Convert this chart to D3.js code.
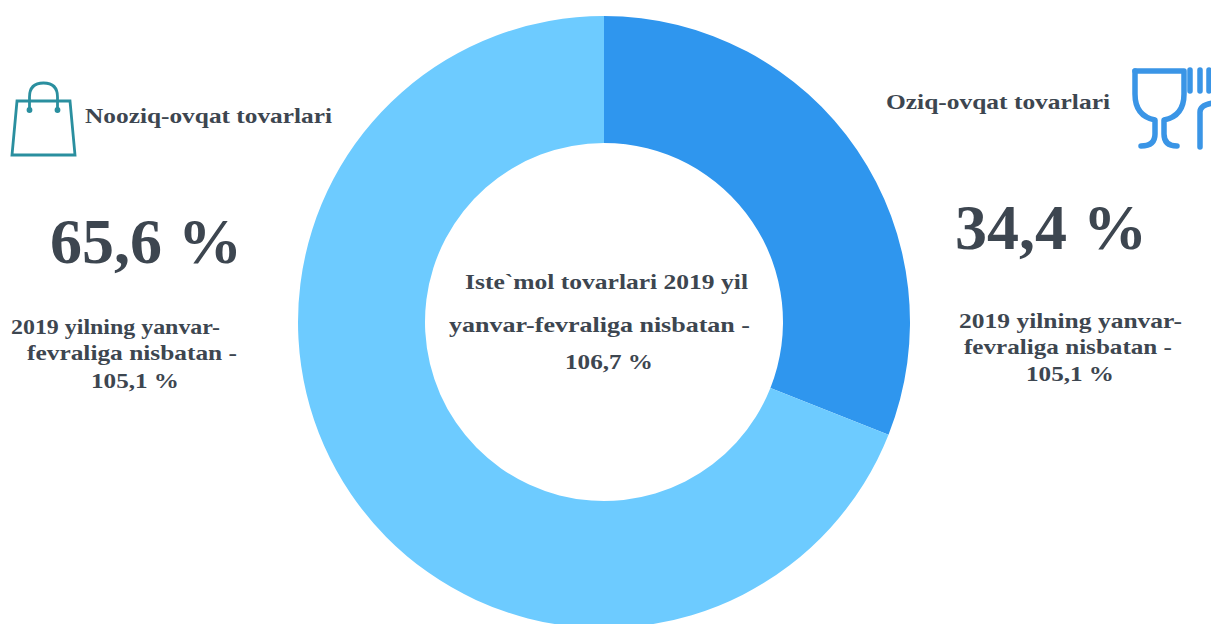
<!DOCTYPE html>
<html>
<head>
<style>
html, body { margin: 0; padding: 0; background: #fff; }
svg { display: block; }
text { font-family: "Liberation Serif", serif; font-weight: bold; fill: #3d4650; }
</style>
</head>
<body>
<script src="https://d3js.org/d3.v7.min.js"></script>
<script>
var categories = ["Oziq-ovqat tovarlari", "Nooziq-ovqat tovarlari"];
var shareLabels = ["34,4 %", "65,6 %"];
// slice sizes as drawn in the picture, they do not follow the printed 34,4 / 65,6
var drawnShares = [31, 69];
var sliceColors = ["#2f96ee", "#6dcbff"];
var subLines = ["2019 yilning yanvar-", "fevraliga nisbatan -", "105,1 %"];
var centerLines = ["Iste`mol tovarlari 2019 yil", "yanvar-fevraliga nisbatan -", "106,7 %"];

var svg = d3.select("body").append("svg")
    .attr("width", 1211)
    .attr("height", 624);

// donut
var pie = d3.pie().sort(null).value(function (d) { return d; });
var arc = d3.arc().innerRadius(179).outerRadius(306);

svg.append("g")
    .attr("transform", "translate(604,322)")
    .selectAll("path")
    .data(pie(drawnShares))
    .enter()
    .append("path")
    .attr("d", arc)
    .style("fill", function (d, i) { return sliceColors[i]; });

// the text in the picture is stretched, so every line is fitted to its width
function addLine(str, x, y, w, size) {
    svg.append("text")
        .attr("x", x)
        .attr("y", y)
        .attr("textLength", w)
        .attr("lengthAdjust", "spacingAndGlyphs")
        .style("font-size", size + "px")
        .text(str);
}

// centre text
addLine(centerLines[0], 465, 289, 283, 22);
addLine(centerLines[1], 449, 332, 301, 22);
addLine(centerLines[2], 565, 369, 88, 22);

// left block
addLine(categories[1], 85, 123, 247, 22);
addLine(shareLabels[1], 50, 263, 192, 64);
addLine(subLines[0], 11, 334, 209, 22);
addLine(subLines[1], 27, 360, 210, 22);
addLine(subLines[2], 91, 388, 88, 22);

// right block
addLine(categories[0], 886, 109, 224, 22);
addLine(shareLabels[0], 955, 249, 192, 64);
addLine(subLines[0], 959, 328, 223, 22);
addLine(subLines[1], 964, 354, 208, 22);
addLine(subLines[2], 1026, 381, 88, 22);

// shopping bag icon
var bag = svg.append("g").attr("fill", "none").attr("stroke", "#2a8f9f").attr("stroke-width", 2.8);
bag.append("path").attr("d", "M17 101 L70 101 L75 155 L12 155 Z");
bag.append("path").attr("d", "M29.5 110 L29.5 97 Q29.5 83 43.5 83 Q57.5 83 57.5 97 L57.5 110");
bag.append("circle").attr("cx", 29.5).attr("cy", 110).attr("r", 1.5).attr("fill", "#2a8f9f");
bag.append("circle").attr("cx", 57.5).attr("cy", 110).attr("r", 1.5).attr("fill", "#2a8f9f");

// glass and fork icon
var cutlery = svg.append("g").attr("fill", "none").attr("stroke", "#3a95e6").attr("stroke-width", 5.5).attr("stroke-linecap", "round").attr("stroke-linejoin", "round");
cutlery.append("path").attr("d", "M1135 71 L1184 71 L1184 94 Q1184 116 1164 120 L1164 134 Q1164 146 1177 146");
cutlery.append("path").attr("d", "M1135 71 L1135 94 Q1135 116 1155 120 L1155 134 Q1155 146 1141 146");
cutlery.append("path").attr("d", "M1190 70 L1190 91 M1200 70 L1200 91 M1209 70 L1209 91");
cutlery.append("path").attr("d", "M1200 147 L1200 112 Q1200 105 1213 103");
</script>
</body>
</html>
